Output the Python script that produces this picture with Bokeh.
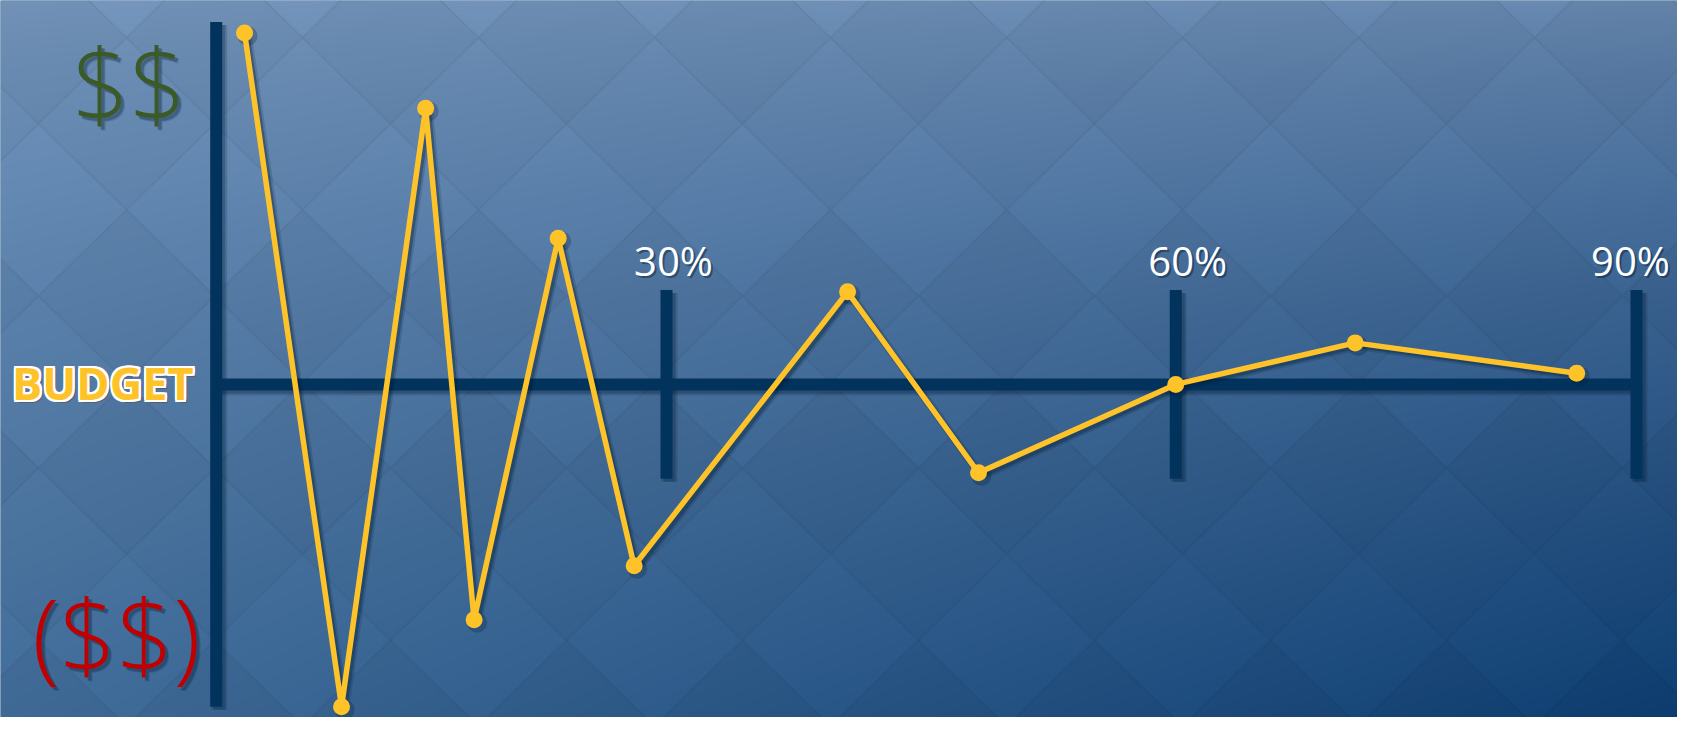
import numpy as np
from bokeh.plotting import figure
from bokeh.models import Range1d, ColumnDataSource
from bokeh.embed import file_html
from bokeh.resources import INLINE
from bokeh.core.properties import value

# ---------------- data ----------------
progress_pct = [3.9, 9.9, 15.1, 18.1, 23.3, 28.0, 41.2, 49.3, 61.5, 72.6, 86.3]
budget_variance = [99.8, -91.5, 78.4, -66.8, 41.5, -51.5, 26.3, -25.1, 0.0, 11.8, 3.2]
milestone_pos = [30.0, 61.5, 90.0]
milestone_labels = ["30%", "60%", "90%"]
over_label = "$$"
under_label = "($$)"
budget_label = "BUDGET"

# ---------------- layout constants ----------------
W, H = 1677, 717
REF_W, REF_H = 1693, 733
PX_PER_X = 16.1667     # reference px per x unit
PX_PER_Y = 3.6         # reference px per y unit
BUDGET_PY = 392.5
X0 = 30.0 - 666.0 / PX_PER_X
X1 = X0 + W / PX_PER_X
Y0, Y1 = (BUDGET_PY - REF_H) / PX_PER_Y, BUDGET_PY / PX_PER_Y
LABEL_DX = [7, 12, -6]   # horizontal nudges (px) of the milestone labels


def rx(px):
    return X0 + px / PX_PER_X


def ry(py):
    return (BUDGET_PY - py) / PX_PER_Y


axis_x = rx(215.7)
axis_top = ry(22)
axis_bottom = ry(722)
tick_half = 26.8

AXIS = "#02335d"
GOLD = "#ffc32a"
SHADOW = "#001a33"
FONT = value("Open Sans")

p = figure(width=W, height=H, x_range=Range1d(X0, X1), y_range=Range1d(Y0, Y1),
           output_backend="svg", toolbar_location=None, min_border=0)
p.axis.visible = False
p.grid.visible = False
p.outline_line_color = None
p.background_fill_color = "#3a6390"
p.border_fill_color = "#3a6390"

# ---------------- background (gradient + diamond pattern) ----------------
sy, sx = np.mgrid[0:H, 0:W].astype(float)
sx += 0.5
sy += 0.5
rxp = sx
ryp = sy * REF_H / H
tx = rxp / REF_W
ty = (ryp / REF_H) ** 0.75
TL = np.array([118, 150, 188], float)
TR = np.array([104, 136, 175], float)
BL = np.array([64, 107, 151], float)
BR = np.array([13, 60, 111], float)
tx3 = tx[..., None]
ty3 = ty[..., None]
top = TL * (1 - tx3) + TR * tx3
bot = BL * (1 - tx3) + BR * tx3
col = top * (1 - ty3) + bot * ty3

a = rxp - ryp - 88.0
b = rxp + ryp - 164.0
u = np.floor(a / 176.0)
v = np.floor(b / 176.0)
shade = 1.0 + 0.025 * ((((u * 3 + v * 7) % 5) - 2) / 2.0)
col = col * shade[..., None]
d1 = np.abs(((a + 88.0) % 176.0) - 88.0) / np.sqrt(2)
d2 = np.abs(((b + 88.0) % 176.0) - 88.0) / np.sqrt(2)
dmin = np.minimum(d1, d2)
lw = np.clip(1.1 - dmin / 1.0, 0, 1)
col = col * (1 - 0.08 * lw[..., None])
col = np.clip(col, 0, 255).astype(np.uint8)
rgba = np.empty((H, W, 4), dtype=np.uint8)
rgba[..., :3] = col
rgba[..., 3] = 255
rgba = np.ascontiguousarray(rgba[::-1])
img = rgba.view(np.uint32).reshape(H, W)
p.image_rgba(image=[img], x=X0, y=Y0, dw=X1 - X0, dh=Y1 - Y0)

# shadow offsets in data units (3 screen px)
DX = 3 * (X1 - X0) / W
DY = 3 * (Y1 - Y0) / H

# ---------------- axes ----------------
seg_x0 = [axis_x, axis_x] + milestone_pos
seg_x1 = [axis_x, milestone_pos[-1]] + milestone_pos
seg_y0 = [axis_bottom, 0.0] + [-tick_half] * len(milestone_pos)
seg_y1 = [axis_top, 0.0] + [tick_half] * len(milestone_pos)
axis_src = ColumnDataSource(dict(x0=seg_x0, x1=seg_x1, y0=seg_y0, y1=seg_y1))
sh_src = ColumnDataSource(dict(x0=[x + DX for x in seg_x0], x1=[x + DX for x in seg_x1],
                               y0=[y - DY for y in seg_y0], y1=[y - DY for y in seg_y1]))
p.segment("x0", "y0", "x1", "y1", source=sh_src, line_color=SHADOW, line_alpha=0.16,
          line_width=16, line_cap="butt")
p.segment("x0", "y0", "x1", "y1", source=sh_src, line_color=SHADOW, line_alpha=0.25,
          line_width=12, line_cap="butt")
p.segment("x0", "y0", "x1", "y1", source=axis_src, line_color=AXIS, line_width=12,
          line_cap="butt")

# ---------------- series ----------------
xs = np.array(progress_pct)
ys = np.array(budget_variance)
p.line(xs + DX, ys - DY, line_color=SHADOW, line_alpha=0.16, line_width=9, line_join="round")
p.line(xs + DX, ys - DY, line_color=SHADOW, line_alpha=0.3, line_width=5, line_join="round")
p.scatter(xs + DX, ys - DY, size=20, color=SHADOW, alpha=0.25, line_color=None)
p.line(xs, ys, line_color=GOLD, line_width=5.5, line_join="round")
p.scatter(xs, ys, size=17, color=GOLD, line_color=None)

# ---------------- milestone labels ----------------
lab_y = [ry(266)] * len(milestone_pos)
lab_src = ColumnDataSource(dict(x=milestone_pos, y=lab_y, t=milestone_labels,
                                dx=LABEL_DX, dxs=[d + 2 for d in LABEL_DX]))
p.text("x", "y", text="t", source=lab_src, text_font=FONT, text_font_size="40px",
       text_color=SHADOW, text_alpha=0.45, text_align="center",
       text_baseline="middle", x_offset="dxs", y_offset=2)
p.text("x", "y", text="t", source=lab_src, text_font=FONT, text_font_size="40px",
       text_color="white", text_align="center", text_baseline="middle", x_offset="dx")

# ---------------- $$ / ($$) ----------------
for txt, px_r, py_c, colr in [(over_label, 186, 82, "#3b5a26"), (under_label, 205, 646, "#c00000")]:
    for off, alpha in [(4, 0.16), (3, 0.25)]:
        p.text([rx(px_r)], [ry(py_c)], text=[txt], text_font=FONT, text_font_size="100px",
               text_color=SHADOW, text_alpha=alpha, text_align="right",
               text_baseline="middle", x_offset=off, y_offset=off)
    p.text([rx(px_r)], [ry(py_c)], text=[txt], text_font=FONT, text_font_size="100px",
           text_color=colr, text_align="right", text_baseline="middle")

# ---------------- BUDGET ----------------
bx, by = rx(193), ry(391)
p.text([bx], [by], text=[budget_label], text_font=FONT, text_font_size="45px",
       text_font_style="bold", text_color="#555555", text_alpha=0.7, text_align="right",
       text_baseline="middle", x_offset=3, y_offset=3)
for ox in (-2, 0, 2):
    for oy in (-2, 0, 2):
        if ox == 0 and oy == 0:
            continue
        p.text([bx], [by], text=[budget_label], text_font=FONT, text_font_size="45px",
               text_font_style="bold", text_color="white", text_align="right",
               text_baseline="middle", x_offset=ox, y_offset=oy)
p.text([bx], [by], text=[budget_label], text_font=FONT, text_font_size="45px",
       text_font_style="bold", text_color=GOLD, text_align="right",
       text_baseline="middle")

open("out.html", "w").write(file_html(p, INLINE))
